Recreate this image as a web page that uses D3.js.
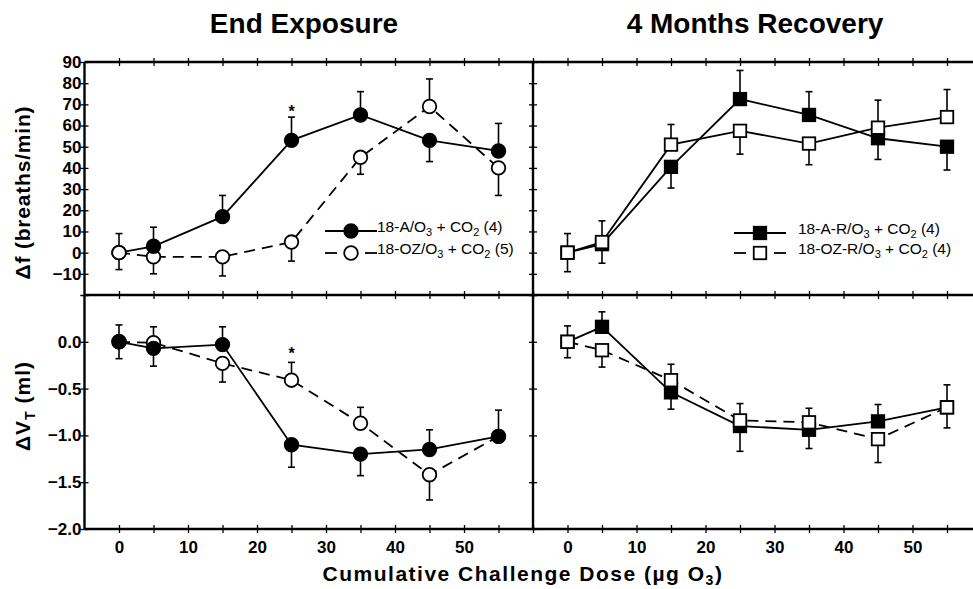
<!DOCTYPE html>
<html>
<head>
<meta charset="utf-8">
<script src="https://cdn.jsdelivr.net/npm/d3@7/dist/d3.min.js"></script>
<style>
  html, body { margin: 0; padding: 0; background: #fff; }
  svg { display: block; }
  text { font-family: "Liberation Sans", Arial, Helvetica, sans-serif; fill: #000; }
</style>
</head>
<body>
<svg id="chart" width="973" height="589"></svg>
<script>
// ---------------- DATA ----------------
const doses = [0, 5, 15, 25, 35, 45, 55];
const xTickLabels = [0, 10, 20, 30, 40, 50];
const fTickLabels = [-10, 0, 10, 20, 30, 40, 50, 60, 70, 80, 90];
const vTickLabels = [-2.0, -1.5, -1.0, -0.5, 0.0];

const panelTitles = ["End Exposure", "4 Months Recovery"];

// End exposure, Δf (breaths/min)
const fA      = [0, 3, 17, 53, 65, 53, 48];
const fA_up   = [0, 9, 10, 11, 11, 0, 13];
const fA_dn   = [0, 0, 0, 0, 0, 10, 0];
const fOZ     = [0, -2, -2, 5, 45, 69, 40];
const fOZ_up  = [9, 0, 0, 0, 0, 13, 0];
const fOZ_dn  = [8, 8, 9, 9, 8, 0, 13];

// 4 months recovery, Δf
const fAR     = [0, 4, 40.5, 72.5, 65, 54, 50];
const fAR_up  = [0, 0, 0, 13.5, 11, 0, 0];
const fAR_dn  = [0, 9, 10, 0, 0, 10, 11];
const fOZR    = [0, 5, 51, 57.5, 51.5, 59, 64];
const fOZR_up = [9, 10, 9.5, 0, 0, 13, 13];
const fOZR_dn = [9, 0, 0, 11, 10, 0, 0];

// End exposure, ΔVT (ml)
const vA      = [0, -0.07, -0.03, -1.10, -1.20, -1.15, -1.01];
const vA_up   = [0.18, 0, 0.19, 0, 0, 0.21, 0.28];
const vA_dn   = [0.18, 0.19, 0, 0.24, 0.23, 0, 0];
const vOZ     = [0, -0.01, -0.23, -0.41, -0.87, -1.42, -1.01];
const vOZ_up  = [0, 0.17, 0, 0.19, 0.17, 0, 0];
const vOZ_dn  = [0, 0, 0.20, 0, 0, 0.27, 0];

// 4 months recovery, ΔVT
const vAR     = [0, 0.16, -0.54, -0.90, -0.94, -0.85, -0.70];
const vAR_up  = [0, 0.16, 0, 0, 0, 0.18, 0];
const vAR_dn  = [0, 0, 0.18, 0.27, 0.20, 0, 0];
const vOZR    = [0, -0.09, -0.41, -0.84, -0.86, -1.04, -0.70];
const vOZR_up = [0.17, 0, 0.17, 0.18, 0.15, 0, 0.24];
const vOZR_dn = [0.17, 0.18, 0, 0, 0, 0.25, 0.22];

// significance markers [dose, value]
const starTop = [25, 68];
const starBot = [25, -0.1];

// legend labels (text parts, subscript flag)
const legendLeft = [
  [["18-A/O", 0], ["3", 1], [" + CO", 0], ["2", 1], [" (4)", 0]],
  [["18-OZ/O", 0], ["3", 1], [" + CO", 0], ["2", 1], [" (5)", 0]]
];
const legendRight = [
  [["18-A-R/O", 0], ["3", 1], [" + CO", 0], ["2", 1], [" (4)", 0]],
  [["18-OZ-R/O", 0], ["3", 1], [" + CO", 0], ["2", 1], [" (4)", 0]]
];

// ---------------- LAYOUT ----------------
const svg = d3.select("#chart");
const TOP = 62, MID = 295, BOT = 529, LEFT = 84.5, DIV = 533, RIGHT = 981.5;

const xL = d3.scaleLinear().domain([-5, 60]).range([LEFT, DIV]);
const xR = d3.scaleLinear().domain([-5, 60]).range([DIV, RIGHT]);
const yTop = d3.scaleLinear().domain([-20, 90]).range([MID, TOP]);
const yBot = d3.scaleLinear().domain([-2, 0.5]).range([BOT, MID]);

const frameW = 2.4;
const fmtMinus = v => (v < 0 ? "\u2212" : "") + Math.abs(v);

// ---- frame lines
const frame = svg.append("g").attr("stroke", "#000").attr("stroke-width", frameW).attr("fill", "none");
frame.append("line").attr("x1", LEFT).attr("x2", 973).attr("y1", TOP).attr("y2", TOP);
frame.append("line").attr("x1", LEFT).attr("x2", 973).attr("y1", MID).attr("y2", MID);
frame.append("line").attr("x1", LEFT).attr("x2", 973).attr("y1", BOT).attr("y2", BOT);
frame.append("line").attr("x1", LEFT).attr("x2", LEFT).attr("y1", TOP).attr("y2", BOT);
frame.append("line").attr("x1", DIV).attr("x2", DIV).attr("y1", TOP).attr("y2", BOT);

// ---- ticks (crossing lines) via d3 axes
function xTicks(x, yPos) {
  const vals = d3.range(0, 61, 5);
  [4, -4].forEach(s => {
    const ax = d3.axisBottom(x).tickValues(vals).tickSize(s).tickFormat("");
    const g = svg.append("g").attr("transform", `translate(0,${yPos})`).call(ax);
    g.select(".domain").remove();
    g.selectAll(".tick line").attr("stroke", "#000").attr("stroke-width", 1.3);
  });
}
[xL, xR].forEach(x => [TOP, MID, BOT].forEach(yp => xTicks(x, yp)));

function yTicks(y, vals, xPos) {
  [4, -4].forEach(s => {
    const ax = d3.axisLeft(y).tickValues(vals).tickSize(s).tickFormat("");
    const g = svg.append("g").attr("transform", `translate(${xPos},0)`).call(ax);
    g.select(".domain").remove();
    g.selectAll(".tick line").attr("stroke", "#000").attr("stroke-width", 1.3);
  });
}
[LEFT, DIV].forEach(xp => {
  yTicks(yTop, d3.range(-20, 91, 10), xp);
  yTicks(yBot, d3.range(-2, 0.51, 0.5), xp);
});

// ---- tick labels
const fontTick = 17;
function yLabels(y, vals, fmt) {
  const ax = d3.axisLeft(y).tickValues(vals).tickSize(0).tickPadding(0).tickFormat(fmt);
  const g = svg.append("g").attr("transform", `translate(${LEFT - 3},0)`).call(ax);
  g.select(".domain").remove();
  g.selectAll(".tick text")
    .attr("font-family", "Liberation Sans, Arial, sans-serif")
    .attr("font-size", fontTick).attr("font-weight", "bold").attr("fill", "#000");
}
yLabels(yTop, fTickLabels, d => fmtMinus(d));
yLabels(yBot, vTickLabels, d => (d < 0 ? "\u2212" : "") + Math.abs(d).toFixed(1));

function xLabels(x) {
  const ax = d3.axisBottom(x).tickValues(xTickLabels).tickSize(0).tickPadding(12).tickFormat(d => d);
  const g = svg.append("g").attr("transform", `translate(0,${BOT})`).call(ax);
  g.select(".domain").remove();
  g.selectAll(".tick text")
    .attr("font-family", "Liberation Sans, Arial, sans-serif")
    .attr("font-size", fontTick).attr("font-weight", "bold").attr("fill", "#000");
}
xLabels(xL); xLabels(xR);

// ---- titles
svg.append("text").attr("x", 304).attr("y", 33)
  .attr("text-anchor", "middle").attr("font-size", 28).attr("font-weight", "bold").text(panelTitles[0]);
svg.append("text").attr("x", 755).attr("y", 33)
  .attr("text-anchor", "middle").attr("font-size", 28).attr("font-weight", "bold").text(panelTitles[1]);

// x-axis title
const xt = svg.append("text").attr("x", 523).attr("y", 581).attr("text-anchor", "middle")
  .attr("font-size", 21).attr("font-weight", "bold").attr("letter-spacing", 1.5);
xt.append("tspan").text("Cumulative Challenge Dose (\u00b5g O");
xt.append("tspan").attr("font-size", 14).attr("dy", 4).text("3");
xt.append("tspan").attr("dy", -4).text(")");

// y-axis titles
svg.append("text").attr("transform", `translate(30,${(TOP + MID) / 2 + 14}) rotate(-90)`)
  .attr("text-anchor", "middle").attr("font-size", 21).attr("font-weight", "bold").attr("letter-spacing", 0.8)
  .text("\u0394f (breaths/min)");
const yt2 = svg.append("text").attr("transform", `translate(30,${(MID + BOT) / 2 - 6}) rotate(-90)`)
  .attr("text-anchor", "middle").attr("font-size", 21).attr("font-weight", "bold").attr("letter-spacing", 1);
yt2.append("tspan").text("\u0394V");
yt2.append("tspan").attr("font-size", 14).attr("dy", 5).text("T");
yt2.append("tspan").attr("dy", -5).text(" (ml)");

// ---------------- SERIES ----------------
const R = 6.8, SQ = 12.5, capW = 3.5;
const lineW = 1.8;
const DASH = "11,7";

function drawLine(g, x, y, vals, dashed) {
  const line = d3.line().x((d, i) => x(doses[i])).y(d => y(d));
  g.append("path").datum(vals).attr("d", line).attr("fill", "none").attr("stroke", "#000")
    .attr("stroke-width", lineW).attr("stroke-dasharray", dashed ? DASH : null);
}
function drawErr(g, x, y, vals, up, dn) {
  vals.forEach((v, i) => {
    const cx = x(doses[i]);
    [[up[i], 1], [dn[i], -1]].forEach(([e, s]) => {
      if (!e) return;
      const y1 = y(v), y2 = y(v + s * e);
      g.append("line").attr("x1", cx).attr("x2", cx).attr("y1", y1).attr("y2", y2)
        .attr("stroke", "#000").attr("stroke-width", 1.6);
      g.append("line").attr("x1", cx - capW).attr("x2", cx + capW).attr("y1", y2).attr("y2", y2)
        .attr("stroke", "#000").attr("stroke-width", 1.6);
    });
  });
}
function marker(g, cx, cy, shape, filled) {
  if (shape === "circle") {
    g.append("circle").attr("cx", cx).attr("cy", cy).attr("r", R)
      .attr("fill", filled ? "#000" : "#fff").attr("stroke", "#000").attr("stroke-width", 1.8);
  } else {
    g.append("rect").attr("x", cx - SQ / 2).attr("y", cy - SQ / 2).attr("width", SQ).attr("height", SQ)
      .attr("fill", filled ? "#000" : "#fff").attr("stroke", "#000").attr("stroke-width", 1.8);
  }
}
function drawMarkers(g, x, y, vals, shape, filled, idxs) {
  vals.forEach((v, i) => { if (!idxs || idxs.includes(i)) marker(g, x(doses[i]), y(v), shape, filled); });
}

const all = doses.map((d, i) => i);

// Panel: top-left
{
  const g = svg.append("g");
  drawLine(g, xL, yTop, fOZ, true);
  drawLine(g, xL, yTop, fA, false);
  drawErr(g, xL, yTop, fOZ, fOZ_up, fOZ_dn);
  drawErr(g, xL, yTop, fA, fA_up, fA_dn);
  drawMarkers(g, xL, yTop, fOZ, "circle", false, all.slice(1));
  drawMarkers(g, xL, yTop, fA, "circle", true);
  drawMarkers(g, xL, yTop, fOZ, "circle", false, [0]);
  g.append("text").attr("x", xL(starTop[0])).attr("y", yTop(starTop[1]) + 8).attr("text-anchor", "middle")
    .attr("font-size", 16).attr("font-weight", "bold").text("*");
}
// Panel: top-right
{
  const g = svg.append("g");
  drawLine(g, xR, yTop, fAR, false);
  drawLine(g, xR, yTop, fOZR, false);
  drawErr(g, xR, yTop, fAR, fAR_up, fAR_dn);
  drawErr(g, xR, yTop, fOZR, fOZR_up, fOZR_dn);
  drawMarkers(g, xR, yTop, fAR, "square", true);
  drawMarkers(g, xR, yTop, fOZR, "square", false);
}
// Panel: bottom-left
{
  const g = svg.append("g");
  drawLine(g, xL, yBot, vOZ, true);
  drawLine(g, xL, yBot, vA, false);
  drawErr(g, xL, yBot, vOZ, vOZ_up, vOZ_dn);
  drawErr(g, xL, yBot, vA, vA_up, vA_dn);
  drawMarkers(g, xL, yBot, vOZ, "circle", false);
  drawMarkers(g, xL, yBot, vA, "circle", true);
  g.append("text").attr("x", xL(starBot[0])).attr("y", yBot(starBot[1]) + 8).attr("text-anchor", "middle")
    .attr("font-size", 16).attr("font-weight", "bold").text("*");
}
// Panel: bottom-right
{
  const g = svg.append("g");
  drawLine(g, xR, yBot, vOZR, true);
  drawLine(g, xR, yBot, vAR, false);
  drawErr(g, xR, yBot, vAR, vAR_up, vAR_dn);
  drawErr(g, xR, yBot, vOZR, vOZR_up, vOZR_dn);
  drawMarkers(g, xR, yBot, vAR, "square", true);
  drawMarkers(g, xR, yBot, vOZR, "square", false);
}

// ---------------- LEGENDS ----------------
function legendText(g, x, y, parts) {
  const t = g.append("text").attr("x", x).attr("y", y + 5).attr("font-size", 15.5);
  parts.forEach(([s, sub]) => {
    if (sub) t.append("tspan").attr("font-size", 11).attr("dy", 4).text(s);
    else t.append("tspan").attr("dy", t.selectAll("tspan").size() ? -4 : 0).text(s);
  });
}
function legendEntry(g, x0, x1, y, shape, filled, dashed, parts, tx) {
  const cx = (x0 + x1) / 2;
  if (dashed) {
    g.append("line").attr("x1", x0).attr("x2", x0 + 12).attr("y1", y).attr("y2", y).attr("stroke", "#000").attr("stroke-width", lineW);
    g.append("line").attr("x1", x1 - 12).attr("x2", x1).attr("y1", y).attr("y2", y).attr("stroke", "#000").attr("stroke-width", lineW);
  } else {
    g.append("line").attr("x1", x0).attr("x2", x1).attr("y1", y).attr("y2", y).attr("stroke", "#000").attr("stroke-width", lineW);
  }
  marker(g, cx, y, shape, filled);
  legendText(g, tx, y, parts);
}
{
  const g = svg.append("g");
  legendEntry(g, 325, 377, 231, "circle", true, false, legendLeft[0], 377);
  legendEntry(g, 325, 377, 253, "circle", false, true, legendLeft[1], 377);
}
{
  const g = svg.append("g");
  legendEntry(g, 734, 786, 233, "square", true, false, legendRight[0], 798);
  legendEntry(g, 734, 786, 253, "square", false, true, legendRight[1], 798);
}
</script>
</body>
</html>
